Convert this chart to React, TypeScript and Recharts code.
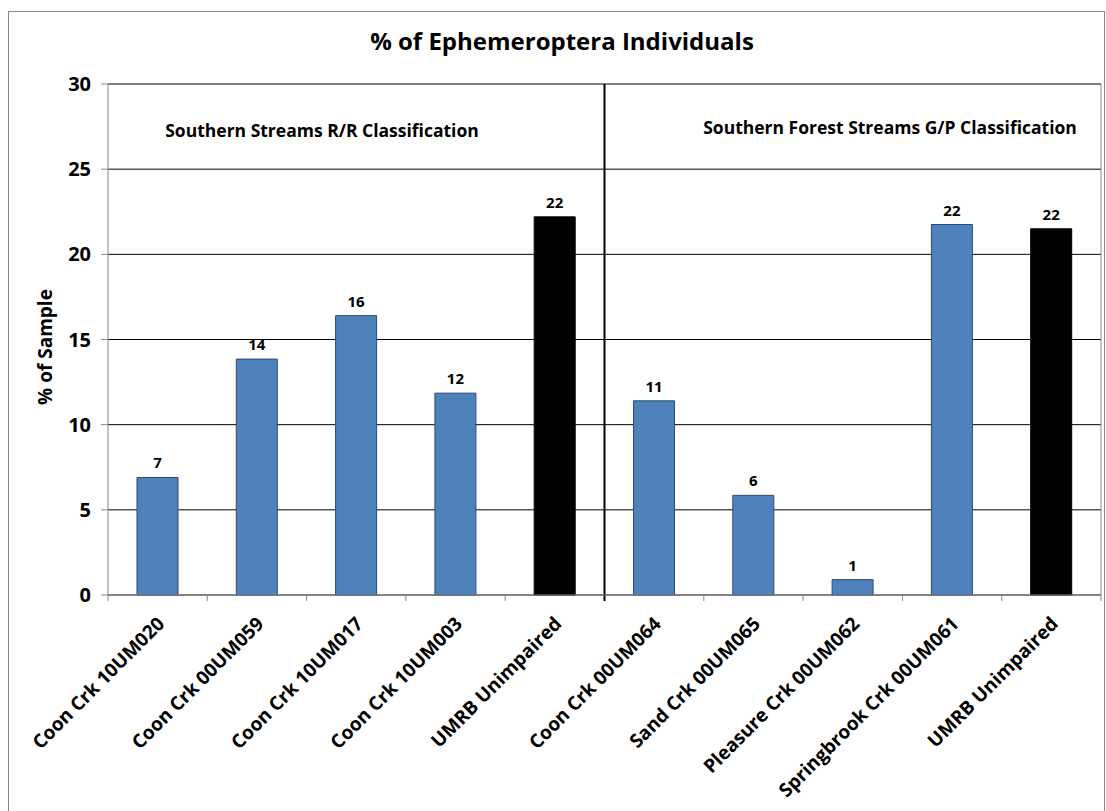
import { Bar, BarChart, CartesianGrid, Cell, LabelList, ReferenceLine, XAxis, YAxis } from "recharts"

const categories = [
  "Coon Crk 10UM020",
  "Coon Crk 00UM059",
  "Coon Crk 10UM017",
  "Coon Crk 10UM003",
  "UMRB Unimpaired",
  "Coon Crk 00UM064",
  "Sand Crk 00UM065",
  "Pleasure Crk 00UM062",
  "Springbrook Crk 00UM061",
  "UMRB Unimpaired ",
]
const percentValues = [6.9, 13.85, 16.4, 11.85, 22.2, 11.4, 5.85, 0.9, 21.75, 21.5]
const isUnimpaired = [false, false, false, false, true, false, false, false, false, true]
const yTicks = [0, 5, 10, 15, 20, 25, 30]
const groupTitles = ["Southern Streams R/R Classification", "Southern Forest Streams G/P Classification"]

const data = categories.map((name, i) => ({ name, value: percentValues[i] }))

const FONT = "'Open Sans', Lato, sans-serif"
const BLUE = "#4F81BD"
const GRAY = "#888888"
const last = categories[categories.length - 1]

const CategoryTick = ({ x, y, payload }: any) => (
  <g transform={`translate(${x + 8},${y + 30})`}>
    <text textAnchor="end" transform="rotate(-45)" fontFamily={FONT} fontWeight="bold" fontSize={19} fill="#000">
      {payload.value.trim()}
    </text>
  </g>
)

export default function App() {
  return (
    <div>
      <div
        style={{
          position: "absolute",
          left: 8,
          top: 11,
          width: 1097,
          height: 800,
          boxSizing: "border-box",
          border: `1px solid ${GRAY}`,
          borderBottom: "none",
          background: "#fff",
        }}
      >
        <BarChart
          width={1095}
          height={799}
          data={data}
          margin={{ top: 72, right: 3, left: 0, bottom: 0 }}
          barSize={41}
        >
          <CartesianGrid vertical={false} stroke="#000" strokeWidth={1} />
          <XAxis
            dataKey="name"
            interval={0}
            height={216}
            tickLine={false}
            tickSize={0}
            tickMargin={0}
            axisLine={{ stroke: GRAY }}
            tick={<CategoryTick />}
          />
          <YAxis
            width={99}
            domain={[0, 30]}
            ticks={yTicks}
            interval={0}
            tickSize={7}
            tickMargin={10}
            axisLine={{ stroke: GRAY }}
            tickLine={{ stroke: GRAY }}
            tick={{ fontFamily: FONT, fontWeight: "bold", fontSize: 20, fill: "#000" }}
          />
          <Bar dataKey="value" isAnimationActive={false} strokeWidth={1}>
            {data.map((_, i) => (
              <Cell
                key={`cell-${i}`}
                fill={isUnimpaired[i] ? "#000" : BLUE}
                stroke={isUnimpaired[i] ? "#000" : "#2a4a70"}
              />
            ))}
            <LabelList
              dataKey="value"
              position="top"
              offset={9}
              formatter={(v: any) => Math.round(Number(v))}
              style={{ fontFamily: FONT, fontWeight: "bold", fontSize: 15, fill: "#000" }}
            />
          </Bar>
          {categories.map((c) => (
            <ReferenceLine
              key={`tick-${c}`}
              position="start"
              segment={[
                { x: c, y: 0 },
                { x: c, y: -0.35 },
              ]}
              stroke={GRAY}
              ifOverflow="visible"
            />
          ))}
          <ReferenceLine
            position="end"
            segment={[
              { x: last, y: -0.35 },
              { x: last, y: 30 },
            ]}
            stroke={GRAY}
            ifOverflow="visible"
          />
          <ReferenceLine
            position="start"
            segment={[
              { x: categories[5], y: -0.35 },
              { x: categories[5], y: 30 },
            ]}
            stroke="#000"
            strokeWidth={2}
            ifOverflow="visible"
          />
        </BarChart>
      </div>
      <svg
        width={1106}
        height={811}
        style={{ position: "absolute", left: 0, top: 0, pointerEvents: "none" }}
      >
        <text x={562} y={50} textAnchor="middle" fontFamily={FONT} fontWeight="bold" fontSize={24} fill="#000">
          % of Ephemeroptera Individuals
        </text>
        <text x={322} y={137} textAnchor="middle" fontFamily={FONT} fontWeight="bold" fontSize={17.5} fill="#000">
          {groupTitles[0]}
        </text>
        <text x={890} y={134} textAnchor="middle" fontFamily={FONT} fontWeight="bold" fontSize={17.5} fill="#000">
          {groupTitles[1]}
        </text>
        <text
          x={52}
          y={347}
          textAnchor="middle"
          transform="rotate(-90 52 347)"
          fontFamily={FONT}
          fontWeight="bold"
          fontSize={19}
          fill="#000"
        >
          % of Sample
        </text>
      </svg>
    </div>
  )
}
